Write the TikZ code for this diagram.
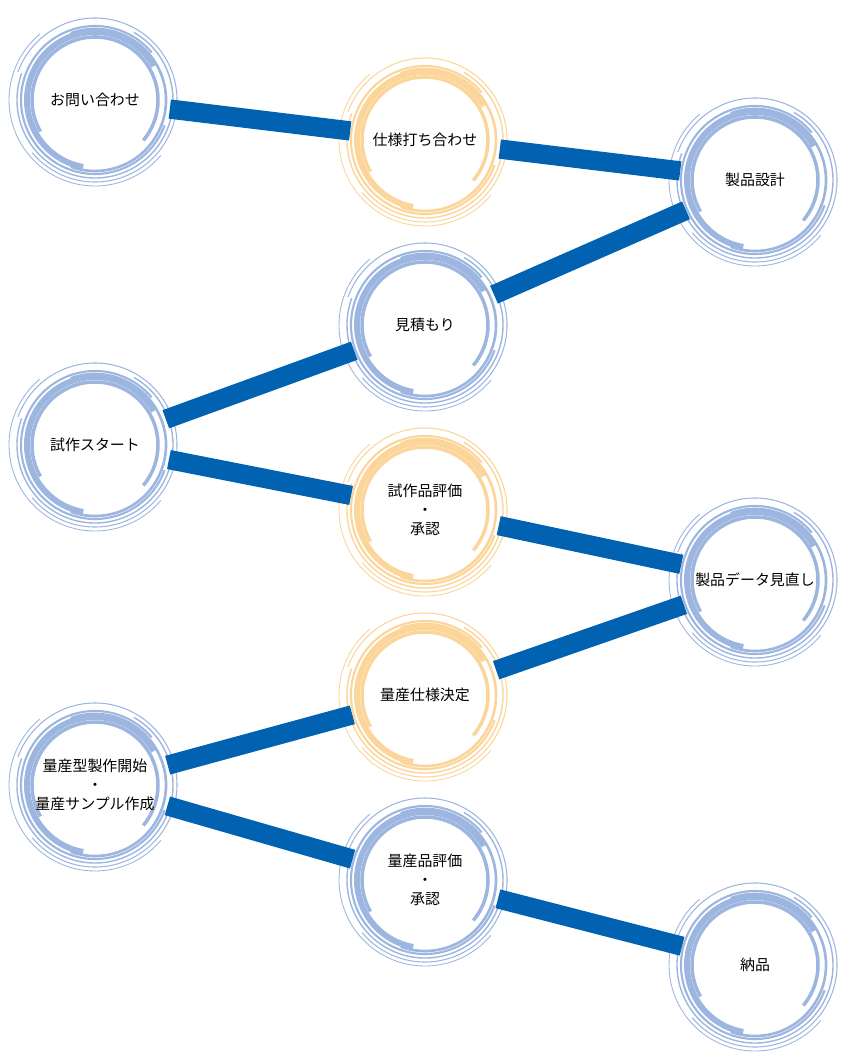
\documentclass[tikz,border=0pt]{standalone}
\usepackage{fontspec}
\setmainfont{Noto Sans CJK JP}
\definecolor{rb}{HTML}{9DB6E0}
\definecolor{ro}{HTML}{FBD59A}
\definecolor{bar}{HTML}{0062B1}
\tikzset{
  stn/.style={circle,minimum size=3.0cm,inner sep=0pt,align=center,font=\fontsize{8.5}{11}\selectfont},
  conn/.style={draw=bar,line width=11pt},
}
\newcommand{\myring}[3]{%
  \begin{scope}[shift={(#1,#2)}]
  \draw[#3,line width=3.4pt] (100:68) arc[start angle=100,end angle=330,radius=68];
  \draw[#3,line width=1.2pt] (20:74) arc[start angle=20,end angle=320,radius=74];
  \draw[#3,line width=0.6pt] (200:82) arc[start angle=200,end angle=500,radius=82];
  \draw[#3,line width=2pt] (150:63) arc[start angle=150,end angle=400,radius=63];
  \draw[#3,line width=0.8pt] (-60:78) arc[start angle=-60,end angle=200,radius=78];
  \draw[#3,line width=1.5pt] (250:71) arc[start angle=250,end angle=470,radius=71];
  \draw[#3,line width=0.5pt] (40:86) arc[start angle=40,end angle=230,radius=86];
  \end{scope}}
\begin{document}
\begin{tikzpicture}[x=0.02cm,y=-0.02cm]
\useasboundingbox (0,0) rectangle (850,1060);
\myring{95}{100}{rb}
\myring{425}{140}{ro}
\myring{755}{180}{rb}
\myring{425}{325}{rb}
\myring{95}{445}{rb}
\myring{425}{510}{ro}
\myring{755}{580}{rb}
\myring{425}{695}{ro}
\myring{95}{785}{rb}
\myring{425}{880}{rb}
\myring{755}{965}{rb}
\node[stn] (n1) at (95,100) {お問い合わせ};
\node[stn] (n2) at (425,140) {仕様打ち合わせ};
\node[stn] (n3) at (755,180) {製品設計};
\node[stn] (n4) at (425,325) {見積もり};
\node[stn] (n5) at (95,445) {試作スタート};
\node[stn] (n6) at (425,510) {試作品評価\\・\\承認};
\node[stn] (n7) at (755,580) {製品データ見直し};
\node[stn] (n8) at (425,695) {量産仕様決定};
\node[stn] (n9) at (95,785) {量産型製作開始\\・\\量産サンプル作成};
\node[stn] (n10) at (425,880) {量産品評価\\・\\承認};
\node[stn] (n11) at (755,965) {納品};
\draw[conn] (n1) -- (n2);
\draw[conn] (n2) -- (n3);
\draw[conn] (n4) -- (n3);
\draw[conn] (n5) -- (n4);
\draw[conn] (n5) -- (n6);
\draw[conn] (n6) -- (n7);
\draw[conn] (n8) -- (n7);
\draw[conn] (n9) -- (n8);
\draw[conn] (n9) -- (n10);
\draw[conn] (n10) -- (n11);
\end{tikzpicture}
\end{document}
